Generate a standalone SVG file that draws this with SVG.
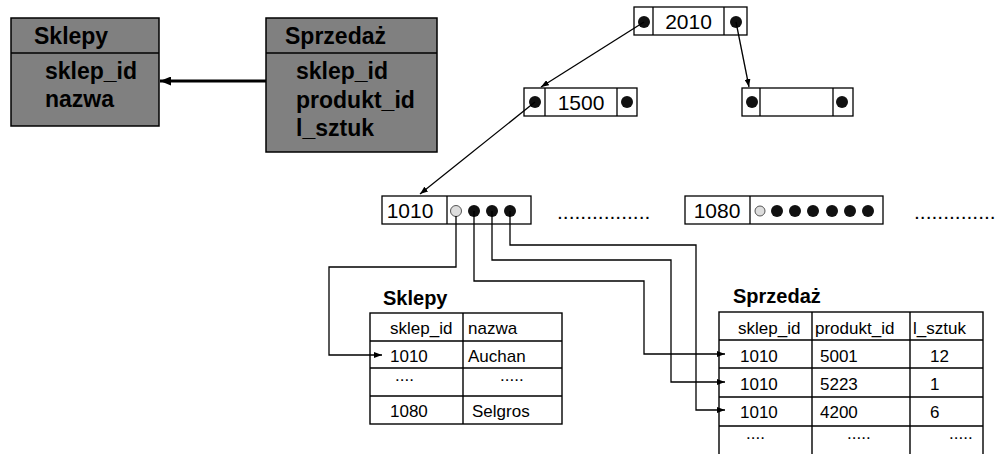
<svg xmlns="http://www.w3.org/2000/svg" width="999" height="454" viewBox="0 0 999 454">
<style>
.er{fill:#808080;stroke:#000;stroke-width:1.5}
.erh{font-family:"Liberation Sans",Arial,sans-serif;font-weight:bold;font-size:23px;fill:#000}
.nd{fill:#fff;stroke:#000;stroke-width:1.3}
.nt{font-family:"Liberation Sans",Arial,sans-serif;font-size:21px;fill:#000}
.tb{fill:#fff;stroke:#000;stroke-width:1.4}
.tl{stroke:#000;stroke-width:1.4;fill:none}
.tt{font-family:"Liberation Sans",Arial,sans-serif;font-size:17px;fill:#000}
.th{font-family:"Liberation Sans",Arial,sans-serif;font-weight:bold;font-size:20px;fill:#000}
.dt{fill:#111}
.ho{fill:#ddd;stroke:#555;stroke-width:1}
.cn{fill:none;stroke:#000;stroke-width:1.3}
</style>
<defs>
<marker id="ah" markerWidth="8" markerHeight="6" refX="8" refY="3" orient="auto" markerUnits="userSpaceOnUse"><path d="M0,0 L8,3 L0,6 z" fill="#000"/></marker>
<marker id="ahb" markerWidth="11" markerHeight="9" refX="11" refY="4.5" orient="auto" markerUnits="userSpaceOnUse"><path d="M0,0 L11,4.5 L0,9 z" fill="#000"/></marker>
</defs>

<g id="er-sklepy">
<rect class="er" x="11" y="18" width="148" height="108"/>
<line x1="11" y1="53" x2="159" y2="53" stroke="#000" stroke-width="1.5"/>
<text class="erh" x="34" y="44">Sklepy</text>
<text class="erh" x="45" y="79">sklep_id</text>
<text class="erh" x="45" y="107">nazwa</text>
</g>
<g id="er-sprzedaz">
<rect class="er" x="266" y="18" width="171" height="134"/>
<line x1="266" y1="53" x2="437" y2="53" stroke="#000" stroke-width="1.5"/>
<text class="erh" x="285" y="44">Sprzedaż</text>
<text class="erh" x="296" y="79">sklep_id</text>
<text class="erh" x="296" y="108">produkt_id</text>
<text class="erh" x="296" y="136">l_sztuk</text>
</g>

<g id="node-2010">
<rect class="nd" x="634" y="7" width="113" height="28"/>
<line class="nd" x1="653" y1="7" x2="653" y2="35"/>
<line class="nd" x1="724" y1="7" x2="724" y2="35"/>
<text class="nt" x="688.5" y="29" text-anchor="middle">2010</text>
<circle class="dt" cx="644" cy="22" r="6"/>
<circle class="dt" cx="736" cy="22" r="6"/>
</g>
<g id="node-1500">
<rect class="nd" x="524" y="88" width="113" height="28"/>
<line class="nd" x1="545" y1="88" x2="545" y2="116"/>
<line class="nd" x1="617" y1="88" x2="617" y2="116"/>
<text class="nt" x="581" y="110" text-anchor="middle">1500</text>
<circle class="dt" cx="535" cy="102" r="6"/>
<circle class="dt" cx="627" cy="102" r="6"/>
</g>
<g id="node-right">
<rect class="nd" x="742" y="88" width="111" height="28"/>
<line class="nd" x1="760" y1="88" x2="760" y2="116"/>
<line class="nd" x1="833" y1="88" x2="833" y2="116"/>
<circle class="dt" cx="752" cy="102" r="6"/>
<circle class="dt" cx="842" cy="102" r="6"/>
</g>
<g id="node-1010">
<rect class="nd" x="382" y="196" width="149" height="28"/>
<line class="nd" x1="447" y1="196" x2="447" y2="224"/>
<text class="nt" x="410" y="218" text-anchor="middle">1010</text>
<circle class="ho" cx="456" cy="211" r="5.5"/>
<circle class="dt" cx="474" cy="211" r="6"/>
<circle class="dt" cx="492" cy="211" r="6"/>
<circle class="dt" cx="510" cy="211" r="6"/>
</g>
<text class="nt" x="557" y="219">................</text>
<g id="node-1080">
<rect class="nd" x="685" y="196" width="198" height="28"/>
<line class="nd" x1="750" y1="196" x2="750" y2="224"/>
<text class="nt" x="717" y="218" text-anchor="middle">1080</text>
<circle class="ho" cx="760" cy="211" r="5"/>
<circle class="dt" cx="777" cy="211" r="6"/>
<circle class="dt" cx="795" cy="211" r="6"/>
<circle class="dt" cx="813" cy="211" r="6"/>
<circle class="dt" cx="832" cy="211" r="6"/>
<circle class="dt" cx="850" cy="211" r="6"/>
<circle class="dt" cx="868" cy="211" r="6"/>
</g>
<text class="nt" x="914" y="219">..............</text>

<g id="table-sklepy">
<text class="th" x="383" y="305">Sklepy</text>
<rect class="tb" x="370" y="313" width="192" height="111"/>
<path class="tl" d="M463,313 V424 M370,341 H562 M370,368 H562 M370,396 H562"/>
<text class="tt" x="390" y="334">sklep_id</text>
<text class="tt" x="468" y="334">nazwa</text>
<text class="tt" x="390" y="362">1010</text>
<text class="tt" x="468" y="362">Auchan</text>
<text class="tt" x="395" y="381">....</text>
<text class="tt" x="500" y="381">.....</text>
<text class="tt" x="390" y="417">1080</text>
<text class="tt" x="472" y="417">Selgros</text>
</g>
<g id="table-sprzedaz">
<text class="th" x="733" y="303">Sprzedaż</text>
<rect class="tb" x="719" y="312" width="264" height="150"/>
<path class="tl" d="M812,312 V462 M910,312 V462 M719,340 H983 M719,368 H983 M719,397 H983 M719,426 H983"/>
<text class="tt" x="738" y="334">sklep_id</text>
<text class="tt" x="815" y="334">produkt_id</text>
<text class="tt" x="913" y="334">l_sztuk</text>
<text class="tt" x="740" y="362">1010</text>
<text class="tt" x="820" y="362">5001</text>
<text class="tt" x="930" y="362">12</text>
<text class="tt" x="740" y="390">1010</text>
<text class="tt" x="820" y="390">5223</text>
<text class="tt" x="930" y="390">1</text>
<text class="tt" x="740" y="418">1010</text>
<text class="tt" x="820" y="418">4200</text>
<text class="tt" x="930" y="418">6</text>
<text class="tt" x="746" y="439">....</text>
<text class="tt" x="847" y="439">.....</text>
<text class="tt" x="949" y="439">.....</text>
</g>

<g id="connectors">
<line x1="266" y1="81" x2="160" y2="81" stroke="#000" stroke-width="3" marker-end="url(#ahb)"/>
<line class="cn" x1="644" y1="22" x2="541" y2="87" marker-end="url(#ah)"/>
<line class="cn" x1="736" y1="22" x2="749" y2="87" marker-end="url(#ah)"/>
<line class="cn" x1="535" y1="102" x2="420" y2="194" marker-end="url(#ah)"/>
<path class="cn" d="M456,216 V267 H329 V355 H382" marker-end="url(#ah)"/>
<path class="cn" d="M474,211 V281 H644 V354 H725" marker-end="url(#ah)"/>
<path class="cn" d="M492,211 V260 H671 V382 H725" marker-end="url(#ah)"/>
<path class="cn" d="M510,211 V245 H696 V410 H725" marker-end="url(#ah)"/>
</g>
</svg>
